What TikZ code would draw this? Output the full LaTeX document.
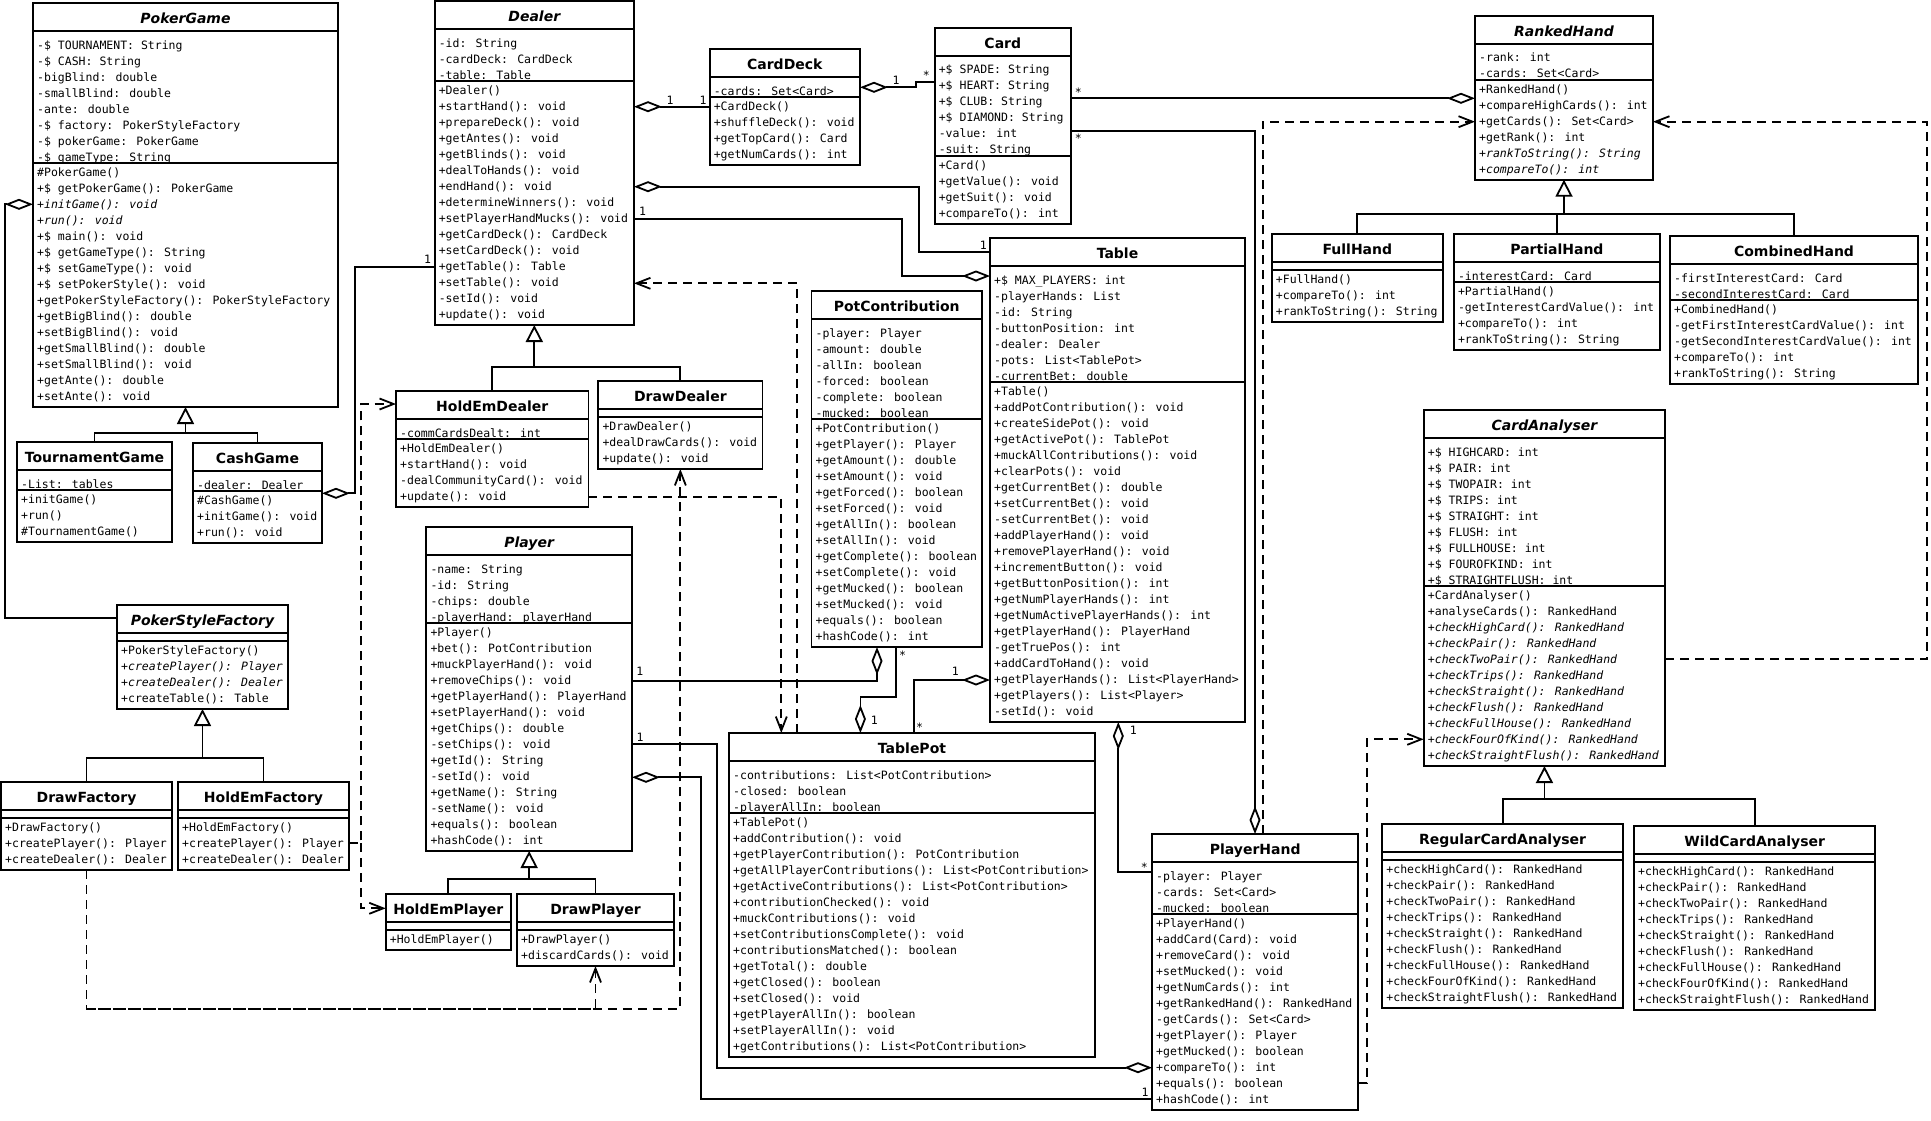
\documentclass[tikz,border=0pt]{standalone}
\usepackage{fontspec}
\usetikzlibrary{arrows.meta}
\newfontfamily\umlmono{DejaVu Sans Mono}
\newfontfamily\umlsans{DejaVu Sans}
\tikzset{
  umlline/.style={line width=1.8pt},
  classbox/.style={draw, line width=1.8pt, inner sep=0pt, outer sep=0pt, anchor=north west, fill=white},
  classtitle/.style={font=\umlsans\bfseries\fontsize{14}{16}\selectfont, anchor=base, inner sep=0pt},
  member/.style={font=\umlmono\fontsize{11.5}{16}\selectfont, anchor=base west, inner sep=0pt},
  mult/.style={font=\umlmono\fontsize{11.5}{16}\selectfont, anchor=base, inner sep=0pt},
  aggr/.style={umlline, {Diamond[open, length=28pt, width=11pt]}-},
  gen/.style={umlline, -{Triangle[open, length=17pt, width=17pt]}},
  dep/.style={umlline, dash pattern=on 9pt off 6pt, -{Straight Barb[length=14pt, width=11pt]}},
}
% #1 name, #2 left, #3 top, #4 right, #5 title, #6 n attrs, #7 attrs, #8 n methods, #9 methods
\newcommand\umlclass[9]{%
  \pgfmathsetmacro\umlya{#3+28}%
  \pgfmathsetmacro\umlyb{(#6==0) ? (\umlya+8) : (\umlya+16*#6+4)}%
  \pgfmathsetmacro\umlyc{\umlyb+16*#8+4}%
  \pgfmathsetmacro\umlw{#4-#2}%
  \pgfmathsetmacro\umlh{\umlyc-#3}%
  \node[classbox, minimum width=\umlw pt, minimum height=\umlh pt] (#1) at (#2,#3) {};
  \draw[umlline] (#2,\umlya) -- (#4,\umlya);
  \draw[umlline] (#2,\umlyb) -- (#4,\umlyb);
  \node[classtitle] (#1-title) at ({(#2+#4)/2},#3+20.3) {#5};
  \ifnum#6>0
    \foreach \umlrow [count=\umlk from 0] in {#7} {\node[member] (#1-a\umlk) at (#2+4,\umlya+18+16*\umlk) {\ignorespaces\umlrow};}
  \fi
  \foreach \umlrow [count=\umlk from 0] in {#9} {\node[member] (#1-m\umlk) at (#2+4,\umlyb+13.3+16*\umlk) {\ignorespaces\umlrow};}
}
\begin{document}
\begin{tikzpicture}[x=1pt,y=-1pt]
\fill[white] (0,0) rectangle (1931,1120);
\useasboundingbox (0,0) rectangle (1931,1120);

% ---------------- classes ----------------
\umlclass{PokerGame}{33}{3}{338}{\itshape PokerGame}{8}{%
-\$ TOURNAMENT: String,-\$ CASH: String,-bigBlind: double,-smallBlind: double,-ante: double,%
-\$ factory: PokerStyleFactory,-\$ pokerGame: PokerGame,-\$ gameType: String}{15}{%
\#PokerGame(),+\$ getPokerGame(): PokerGame,{\itshape +initGame(): void},{\itshape +run(): void},%
+\$ main(): void,+\$ getGameType(): String,+\$ setGameType(): void,+\$ setPokerStyle(): void,%
+getPokerStyleFactory(): PokerStyleFactory,+getBigBlind(): double,+setBigBlind(): void,%
+getSmallBlind(): double,+setSmallBlind(): void,+getAnte(): double,+setAnte(): void}

\umlclass{TournamentGame}{17}{442}{172}{TournamentGame}{1}{-List: tables}{3}{+initGame(),+run(),\#TournamentGame()}
\umlclass{CashGame}{193}{443}{322}{CashGame}{1}{-dealer: Dealer}{3}{\#CashGame(),+initGame(): void,+run(): void}

\umlclass{PokerStyleFactory}{117}{605}{288}{\itshape PokerStyleFactory}{0}{}{4}{%
+PokerStyleFactory(),{\itshape +createPlayer(): Player},{\itshape +createDealer(): Dealer},+createTable(): Table}
\umlclass{DrawFactory}{1}{782}{172}{DrawFactory}{0}{}{3}{+DrawFactory(),+createPlayer(): Player,+createDealer(): Dealer}
\umlclass{HoldEmFactory}{178}{782}{349}{HoldEmFactory}{0}{}{3}{+HoldEmFactory(),+createPlayer(): Player,+createDealer(): Dealer}

\umlclass{Dealer}{434.6}{1}{634}{\itshape Dealer}{3}{-id: String,-cardDeck: CardDeck,-table: Table}{15}{%
+Dealer(),+startHand(): void,+prepareDeck(): void,+getAntes(): void,+getBlinds(): void,%
+dealToHands(): void,+endHand(): void,+determineWinners(): void,+setPlayerHandMucks(): void,%
+getCardDeck(): CardDeck,+setCardDeck(): void,+getTable(): Table,+setTable(): void,-setId(): void,+update(): void}
\umlclass{HoldEmDealer}{396}{391}{588.4}{HoldEmDealer}{1}{-commCardsDealt: int}{4}{%
+HoldEmDealer(),+startHand(): void,-dealCommunityCard(): void,+update(): void}
\umlclass{DrawDealer}{598.3}{381}{762.4}{DrawDealer}{0}{}{3}{+DrawDealer(),+dealDrawCards(): void,+update(): void}

\umlclass{Player}{426.3}{527}{632}{\itshape Player}{4}{-name: String,-id: String,-chips: double,-playerHand: playerHand}{14}{%
+Player(),+bet(): PotContribution,+muckPlayerHand(): void,+removeChips(): void,+getPlayerHand(): PlayerHand,%
+setPlayerHand(): void,+getChips(): double,-setChips(): void,+getId(): String,-setId(): void,%
+getName(): String,-setName(): void,+equals(): boolean,+hashCode(): int}
\umlclass{HoldEmPlayer}{385.7}{894}{511}{HoldEmPlayer}{0}{}{1}{+HoldEmPlayer()}
\umlclass{DrawPlayer}{517}{894}{674}{DrawPlayer}{0}{}{2}{+DrawPlayer(),+discardCards(): void}

\umlclass{CardDeck}{709.6}{49}{860}{CardDeck}{1}{-cards: Set<Card>}{4}{%
+CardDeck(),+shuffleDeck(): void,+getTopCard(): Card,+getNumCards(): int}
\umlclass{Card}{934.6}{27.7}{1071}{Card}{6}{%
+\$ SPADE: String,+\$ HEART: String,+\$ CLUB: String,+\$ DIAMOND: String,-value: int,-suit: String}{4}{%
+Card(),+getValue(): void,+getSuit(): void,+compareTo(): int}

\umlclass{PotContribution}{811.4}{291}{982}{PotContribution}{6}{%
-player: Player,-amount: double,-allIn: boolean,-forced: boolean,-complete: boolean,-mucked: boolean}{14}{%
+PotContribution(),+getPlayer(): Player,+getAmount(): double,+setAmount(): void,+getForced(): boolean,%
+setForced(): void,+getAllIn(): boolean,+setAllIn(): void,+getComplete(): boolean,+setComplete(): void,%
+getMucked(): boolean,+setMucked(): void,+equals(): boolean,+hashCode(): int}

\umlclass{Table}{990}{238}{1245}{Table}{7}{%
+\$ MAX\_PLAYERS: int,-playerHands: List,-id: String,-buttonPosition: int,-dealer: Dealer,%
-pots: List<TablePot>,-currentBet: double}{21}{%
+Table(),+addPotContribution(): void,+createSidePot(): void,+getActivePot(): TablePot,%
+muckAllContributions(): void,+clearPots(): void,+getCurrentBet(): double,+setCurrentBet(): void,%
-setCurrentBet(): void,+addPlayerHand(): void,+removePlayerHand(): void,+incrementButton(): void,%
+getButtonPosition(): int,+getNumPlayerHands(): int,+getNumActivePlayerHands(): int,%
+getPlayerHand(): PlayerHand,-getTruePos(): int,+addCardToHand(): void,%
+getPlayerHands(): List<PlayerHand>,+getPlayers(): List<Player>,-setId(): void}

\umlclass{TablePot}{729}{733}{1095}{TablePot}{3}{%
-contributions: List<PotContribution>,-closed: boolean,-playerAllIn: boolean}{15}{%
+TablePot(),+addContribution(): void,+getPlayerContribution(): PotContribution,%
+getAllPlayerContributions(): List<PotContribution>,+getActiveContributions(): List<PotContribution>,%
+contributionChecked(): void,+muckContributions(): void,+setContributionsComplete(): void,%
+contributionsMatched(): boolean,+getTotal(): double,+getClosed(): boolean,+setClosed(): void,%
+getPlayerAllIn(): boolean,+setPlayerAllIn(): void,+getContributions(): List<PotContribution>}

\umlclass{PlayerHand}{1152}{834}{1358.3}{PlayerHand}{3}{-player: Player,-cards: Set<Card>,-mucked: boolean}{12}{%
+PlayerHand(),+addCard(Card): void,+removeCard(): void,+setMucked(): void,+getNumCards(): int,%
+getRankedHand(): RankedHand,-getCards(): Set<Card>,+getPlayer(): Player,+getMucked(): boolean,%
+compareTo(): int,+equals(): boolean,+hashCode(): int}

\umlclass{RankedHand}{1475}{15.7}{1653}{\itshape RankedHand}{2}{-rank: int,-cards: Set<Card>}{6}{%
+RankedHand(),+compareHighCards(): int,+getCards(): Set<Card>,+getRank(): int,%
{\itshape +rankToString(): String},{\itshape +compareTo(): int}}
\umlclass{FullHand}{1271.7}{234}{1443}{FullHand}{0}{}{3}{+FullHand(),+compareTo(): int,+rankToString(): String}
\umlclass{PartialHand}{1453.8}{234}{1660}{PartialHand}{1}{-interestCard: Card}{4}{%
+PartialHand(),-getInterestCardValue(): int,+compareTo(): int,+rankToString(): String}
\umlclass{CombinedHand}{1670}{236}{1918}{CombinedHand}{2}{-firstInterestCard: Card,-secondInterestCard: Card}{5}{%
+CombinedHand(),-getFirstInterestCardValue(): int,-getSecondInterestCardValue(): int,+compareTo(): int,+rankToString(): String}

\umlclass{CardAnalyser}{1423.7}{410}{1665.2}{\itshape CardAnalyser}{9}{%
+\$ HIGHCARD: int,+\$ PAIR: int,+\$ TWOPAIR: int,+\$ TRIPS: int,+\$ STRAIGHT: int,+\$ FLUSH: int,%
+\$ FULLHOUSE: int,+\$ FOUROFKIND: int,+\$ STRAIGHTFLUSH: int}{11}{%
+CardAnalyser(),+analyseCards(): RankedHand,{\itshape +checkHighCard(): RankedHand},%
{\itshape +checkPair(): RankedHand},{\itshape +checkTwoPair(): RankedHand},{\itshape +checkTrips(): RankedHand},%
{\itshape +checkStraight(): RankedHand},{\itshape +checkFlush(): RankedHand},{\itshape +checkFullHouse(): RankedHand},%
{\itshape +checkFourOfKind(): RankedHand},{\itshape +checkStraightFlush(): RankedHand}}
\umlclass{RegularCardAnalyser}{1382.2}{823.7}{1623}{RegularCardAnalyser}{0}{}{9}{%
+checkHighCard(): RankedHand,+checkPair(): RankedHand,+checkTwoPair(): RankedHand,+checkTrips(): RankedHand,%
+checkStraight(): RankedHand,+checkFlush(): RankedHand,+checkFullHouse(): RankedHand,%
+checkFourOfKind(): RankedHand,+checkStraightFlush(): RankedHand}
\umlclass{WildCardAnalyser}{1634}{825.7}{1875.3}{WildCardAnalyser}{0}{}{9}{%
+checkHighCard(): RankedHand,+checkPair(): RankedHand,+checkTwoPair(): RankedHand,+checkTrips(): RankedHand,%
+checkStraight(): RankedHand,+checkFlush(): RankedHand,+checkFullHouse(): RankedHand,%
+checkFourOfKind(): RankedHand,+checkStraightFlush(): RankedHand}

% ---------------- generalizations ----------------
\draw[umlline] (TournamentGame.north) |- (CashGame.north |- 0,433.3) -- (CashGame.north);
\draw[gen] (PokerGame.south |- 0,433.3) -- (PokerGame.south);
\draw[umlline] (DrawFactory.north) |- (HoldEmFactory.north |- 0,757.7) -- (HoldEmFactory.north);
\draw[gen] (PokerStyleFactory.south |- 0,757.7) -- (PokerStyleFactory.south);
\draw[umlline] (HoldEmDealer.north) |- (DrawDealer.north |- 0,366.7) -- (DrawDealer.north);
\draw[gen] (Dealer.south |- 0,366.7) -- (Dealer.south);
\draw[umlline] (HoldEmPlayer.north) |- (DrawPlayer.north |- 0,879) -- (DrawPlayer.north);
\draw[gen] (Player.south |- 0,879) -- (Player.south);
\draw[umlline] (FullHand.north) |- (CombinedHand.north |- 0,214) -- (CombinedHand.north);
\draw[umlline] (PartialHand.north) -- (PartialHand.north |- 0,214);
\draw[gen] (RankedHand.south |- 0,214) -- (RankedHand.south);
\draw[umlline] (RegularCardAnalyser.north) |- (WildCardAnalyser.north |- 0,799) -- (WildCardAnalyser.north);
\draw[gen] (CardAnalyser.south |- 0,799) -- (CardAnalyser.south);

% ---------------- aggregations ----------------
\draw[aggr] (PokerGame.west |- 0,204.3) -- (5,204.3) -- (5,618.3) -- (PokerStyleFactory.west |- 0,618.3);
\draw[aggr] (Dealer.east |- 0,106.7) -- (CardDeck.west |- 0,106.7);
\draw[aggr] (CardDeck.east |- 0,87.3) -- (915.7,87.3) -- (915.7,82.3) -- (Card.west |- 0,82.3);
\draw[aggr] (RankedHand.west |- 0,98.3) -- (Card.east |- 0,98.3);
\draw[aggr] (PlayerHand.north -| 1255,0) -- (1255,131) -- (Card.east |- 0,131);
\draw[aggr] (Dealer.east |- 0,186.7) -- (918.6,186.7) -- (918.6,251.7) -- (Table.west |- 0,251.7);
\draw[aggr] (Table.west |- 0,276) -- (902,276) -- (902,218.7) -- (Dealer.east |- 0,218.7);
\draw[aggr] (CashGame.east |- 0,493.3) -- (355,493.3) -- (355,266.7) -- (Dealer.west |- 0,266.7);
\draw[aggr] (PotContribution.south -| 877,0) -- (877,680.7) -- (Player.east |- 0,680.7);
\draw[aggr] (TablePot.north -| 860.4,0) -- (860.4,697.3) -- (896,697.3) -- (PotContribution.south -| 896,0);
\draw[aggr] (Table.west |- 0,680) -- (913.8,680) -- (TablePot.north -| 913.8,0);
\draw[aggr] (Table.south -| 1118.3,0) -- (1118.3,871.7) -- (PlayerHand.west |- 0,871.7);
\draw[aggr] (PlayerHand.west |- 0,1067.7) -- (716.7,1067.7) -- (716.7,744.3) -- (Player.east |- 0,744.3);
\draw[aggr] (Player.east |- 0,777.3) -- (700.8,777.3) -- (700.8,1099.3) -- (PlayerHand.west |- 0,1099.3);

% ---------------- dependencies ----------------
\coordinate (hfj) at (361,843.3);
\draw[dep] (HoldEmFactory.east |- hfj) -- (hfj) -- (361,404) -- (HoldEmDealer.west |- 0,404);
\draw[dep] (hfj) -- (361,908.3) -- (HoldEmPlayer.west |- 0,908.3);
\coordinate (dfj) at (DrawFactory.south |- 0,1008.7);
\draw[dep] (DrawFactory.south) -- (dfj) -- (DrawDealer.south |- dfj) -- (DrawDealer.south);
\draw[dep] (dfj) -- (DrawPlayer.south |- dfj) -- (DrawPlayer.south);
\draw[dep] (HoldEmDealer.east |- 0,496.7) -- (781.3,496.7) -- (TablePot.north -| 781.3,0);
\draw[dep] (TablePot.north -| 797,0) -- (797,283.3) -- (Dealer.east |- 0,283.3);
\draw[dep] (PlayerHand.north -| 1262.7,0) -- (1262.7,121.7) -- (RankedHand.west |- 0,121.7);
\draw[dep] (CardAnalyser.east |- 0,659.3) -- (1926.6,659.3) -- (1926.6,121.7) -- (RankedHand.east |- 0,121.7);
\draw[dep] (PlayerHand.east |- 0,1083.3) -- (1366.7,1083.3) -- (1366.7,739.3) -- (CardAnalyser.west |- 0,739.3);

% ---------------- multiplicities ----------------
\node[mult] (m1) at (670,104.2) {1};
\node[mult] (m2) at (703.2,104.2) {1};
\node[mult] (m3) at (896,84.2) {1};
\node[mult] (m4) at (926.4,79.7) {*};
\node[mult] (m5) at (1078.3,96.3) {*};
\node[mult] (m6) at (1078.3,142) {*};
\node[mult] (m7) at (983.3,249.2) {1};
\node[mult] (m8) at (642.5,215.9) {1};
\node[mult] (m9) at (427.7,263.5) {1};
\node[mult] (m10) at (639.8,675.9) {1};
\node[mult] (m11) at (902.7,659.7) {*};
\node[mult] (m12) at (874.3,724.2) {1};
\node[mult] (m13) at (955.3,675.9) {1};
\node[mult] (m14) at (919.7,731) {*};
\node[mult] (m15) at (1133.3,734.2) {1};
\node[mult] (m16) at (1144.3,871) {*};
\node[mult] (m17) at (640,741.2) {1};
\node[mult] (m18) at (1145,1096.9) {1};
\end{tikzpicture}
\end{document}
